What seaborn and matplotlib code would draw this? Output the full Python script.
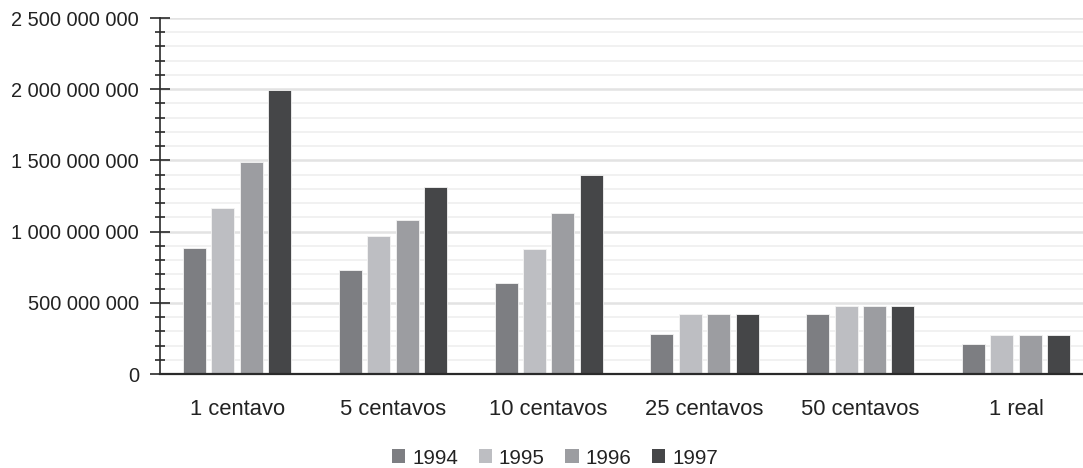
import matplotlib
matplotlib.use("Agg")
import matplotlib.pyplot as plt
import matplotlib.ticker as mticker
from matplotlib.patches import Patch
import seaborn as sns
import pandas as pd

categories = ["1 centavo", "5 centavos", "10 centavos", "25 centavos", "50 centavos", "1 real"]
years = ["1994", "1995", "1996", "1997"]
v1994 = [884e6, 731e6, 638e6, 282e6, 420e6, 213e6]
v1995 = [1167e6, 972e6, 877e6, 422e6, 480e6, 274e6]
v1996 = [1490e6, 1081e6, 1132e6, 422e6, 480e6, 274e6]
v1997 = [1992e6, 1315e6, 1397e6, 422e6, 480e6, 274e6]
colors = ["#7d7e82", "#bdbec2", "#9c9da1", "#454648"]

rows = []
for yr, vals in zip(years, [v1994, v1995, v1996, v1997]):
    for c, v in zip(categories, vals):
        rows.append({"cat": c, "year": yr, "value": v})
df = pd.DataFrame(rows)

sns.set_theme(style="white")
plt.rcParams["font.family"] = ["Liberation Sans", "DejaVu Sans"]

fig = plt.figure(figsize=(10.83, 4.68), dpi=100)
ax = fig.add_axes([160/1083, 1 - 374/468, (1083 - 160)/1083, (374 - 18)/468])

sns.barplot(data=df, x="cat", y="value", hue="year", order=categories, hue_order=years,
            palette=colors, width=0.73, gap=0.19, ax=ax, legend=False,
            edgecolor="#f4f4f4", linewidth=0.6, saturation=1)

ax.set_xlim(-0.495, 5.43)
ax.set_ylim(0, 2.5e9)
ax.yaxis.set_major_locator(mticker.MultipleLocator(5e8))
ax.yaxis.set_minor_locator(mticker.MultipleLocator(1e8))
ax.yaxis.set_major_formatter(mticker.FuncFormatter(lambda x, p: f"{int(round(x)):,}".replace(",", " ")))
ax.grid(axis="y", which="major", color="#e3e3e3", linewidth=1.8, zorder=0)
ax.grid(axis="y", which="minor", color="#f0f0f0", linewidth=1.3, zorder=0)
ax.set_axisbelow(True)

for s in ["top", "right"]:
    ax.spines[s].set_visible(False)
ax.spines["left"].set_color("#2a2a2a")
ax.spines["left"].set_linewidth(1.2)
ax.spines["bottom"].set_color("#2a2a2a")
ax.spines["bottom"].set_linewidth(1.6)

ax.tick_params(axis="y", which="major", direction="inout", length=14, width=1.2, color="#2a2a2a",
               labelsize=14.4, labelcolor="#222222", pad=8, left=True)
ax.tick_params(axis="y", which="minor", direction="inout", length=7, width=1.2, color="#2a2a2a", left=True)
ax.tick_params(axis="x", which="both", length=0, labelsize=15.8, labelcolor="#222222", pad=18)
ax.set_xlabel("")
ax.set_ylabel("")

handles = [Patch(facecolor=c, edgecolor="none", label=y) for c, y in zip(colors, years)]
fig.legend(handles=handles, loc="center", bbox_to_anchor=(555/1083, 1 - 458/468), ncol=4,
           frameon=False, fontsize=14.8, handlelength=0.65, handleheight=0.65,
           handletextpad=0.34, columnspacing=1.0, labelcolor="#222222", borderpad=0)

fig.savefig("out.png", dpi=100)
